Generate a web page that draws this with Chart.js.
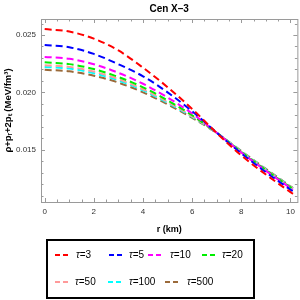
<!DOCTYPE html>
<html>
<head>
<meta charset="utf-8">
<script src="https://cdn.jsdelivr.net/npm/chart.js@4.4.0/dist/chart.umd.min.js"></script>
<style>
html, body { margin: 0; padding: 0; background: #fff; }
#wrap { width: 300px; height: 300px; }
</style>
</head>
<body>
<div id="wrap"><canvas id="myChart" width="300" height="300"></canvas></div>
<script>
// r (km)
const radius = [0, 1, 2, 3, 4, 5, 6, 7, 8, 9, 10, 10.1];

// rho + p_r + 2 p_t (MeV/fm^3) for each tau
const tau3   = [0.02552, 0.02530, 0.02468, 0.02365, 0.02215, 0.02045, 0.01855, 0.01645, 0.01450, 0.01283, 0.01130, 0.01115];
const tau5   = [0.02413, 0.02393, 0.02335, 0.02245, 0.02140, 0.02000, 0.01835, 0.01648, 0.01468, 0.01303, 0.01152, 0.01137];
const tau10  = [0.02309, 0.02292, 0.02245, 0.02170, 0.02075, 0.01955, 0.01815, 0.01648, 0.01475, 0.01315, 0.01165, 0.01150];
const tau20  = [0.02262, 0.02246, 0.02203, 0.02134, 0.02044, 0.01930, 0.01800, 0.01647, 0.01480, 0.01322, 0.01172, 0.01157];
const tau50  = [0.02237, 0.02222, 0.02181, 0.02116, 0.02027, 0.01917, 0.01791, 0.01646, 0.01483, 0.01326, 0.01175, 0.01160];
const tau100 = [0.02221, 0.02207, 0.02167, 0.02104, 0.02017, 0.01908, 0.01786, 0.01646, 0.01485, 0.01328, 0.01177, 0.01162];
const tau500 = [0.02196, 0.02183, 0.02145, 0.02085, 0.02000, 0.01895, 0.01778, 0.01645, 0.01488, 0.01332, 0.01181, 0.01166];

const seriesNames = ["3", "5", "10", "20", "50", "100", "500"];
const seriesValues = [tau3, tau5, tau10, tau20, tau50, tau100, tau500];
const seriesColors = ["#ff0000", "#0000ff", "#ff00ff", "#00ee00", "#ff9a9a", "#00ffff", "#9b6a3a"];

const xTicks = [0, 2, 4, 6, 8, 10];
const yTicks = [0.015, 0.020, 0.025];

const datasets = seriesValues.map((vals, i) => ({
  label: "τ=" + seriesNames[i],
  data: vals.map((v, j) => ({ x: radius[j], y: v })),
  borderColor: seriesColors[i],
  backgroundColor: seriesColors[i],
  borderWidth: 2,
  borderDash: [7, 4],
  pointRadius: 0,
  fill: false,
  cubicInterpolationMode: "monotone"
}));

// frame with inward ticks on all four sides
const frameTicks = {
  id: "frameTicks",
  afterDraw(chart) {
    const { ctx, chartArea: a, scales } = chart;
    ctx.save();
    ctx.strokeStyle = "#9a9a9a";
    ctx.lineWidth = 1;
    ctx.strokeRect(a.left + 0.5, a.top + 0.5, a.right - a.left, a.bottom - a.top);
    ctx.beginPath();
    for (let i = 0; i <= 20; i++) {
      const px = Math.round(scales.x.getPixelForValue(i * 0.5)) + 0.5;
      const len = i % 4 === 0 ? 4 : 2.5;
      ctx.moveTo(px, a.bottom); ctx.lineTo(px, a.bottom - len);
      ctx.moveTo(px, a.top); ctx.lineTo(px, a.top + len);
    }
    for (let i = 11; i <= 26; i++) {
      const py = Math.round(scales.y.getPixelForValue(i / 1000)) + 0.5;
      const len = i % 5 === 0 ? 4 : 2.5;
      ctx.moveTo(a.left, py); ctx.lineTo(a.left + len, py);
      ctx.moveTo(a.right, py); ctx.lineTo(a.right - len, py);
    }
    ctx.stroke();
    ctx.restore();
  }
};

// boxed legend under the plot
const boxLegend = {
  id: "boxLegend",
  afterDraw(chart) {
    const ctx = chart.ctx;
    const slots = [
      [55, 255, 76], [109, 255, 129], [148, 255, 170], [202, 255, 222],
      [55, 282, 75], [108, 282, 129], [165, 282, 187]
    ];
    ctx.save();
    ctx.strokeStyle = "#000";
    ctx.lineWidth = 2;
    ctx.strokeRect(47, 240, 207, 58);
    chart.data.datasets.forEach((ds, i) => {
      const [lx, ly, tx] = slots[i];
      ctx.strokeStyle = ds.borderColor;
      ctx.lineWidth = 2;
      ctx.setLineDash([5, 3]);
      ctx.beginPath();
      ctx.moveTo(lx, ly);
      ctx.lineTo(lx + 14, ly);
      ctx.stroke();
      ctx.setLineDash([]);
      ctx.fillStyle = "#000";
      ctx.textBaseline = "middle";
      ctx.font = "italic 10px 'Liberation Sans'";
      ctx.fillText("τ", tx, ly);
      const w = ctx.measureText("τ").width;
      ctx.font = "10px 'Liberation Sans'";
      ctx.fillText("=" + seriesNames[i], tx + w, ly);
    });
    ctx.restore();
  }
};

new Chart(document.getElementById("myChart"), {
  type: "line",
  data: { datasets: datasets },
  options: {
    responsive: false,
    animation: false,
    layout: { padding: { left: 0, right: 2, top: 0, bottom: 62 } },
    plugins: {
      legend: { display: false },
      tooltip: { enabled: false },
      title: {
        display: true,
        text: "Cen X–3",
        fullSize: false,
        color: "#000",
        font: { family: "'Liberation Sans'", size: 10, weight: "bold", lineHeight: 1.2 },
        padding: { top: 3, bottom: 4 }
      }
    },
    scales: {
      x: {
        type: "linear",
        min: -0.15,
        max: 10.28,
        afterFit: (s) => { s.height = 36; },
        afterBuildTicks: (s) => { s.ticks = xTicks.map(v => ({ value: v })); },
        grid: { display: false, drawTicks: false },
        border: { display: false },
        ticks: {
          padding: 5,
          color: "#333",
          font: { family: "'Liberation Sans'", size: 8 },
          maxRotation: 0
        },
        title: {
          display: true,
          text: "r (km)",
          color: "#000",
          font: { family: "'Liberation Sans'", size: 9, weight: "bold" },
          padding: { top: 0, bottom: 3 }
        }
      },
      y: {
        type: "linear",
        min: 0.010436,
        max: 0.026396,
        afterFit: (s) => { s.width = 41; },
        afterBuildTicks: (s) => { s.ticks = yTicks.map(v => ({ value: v })); },
        grid: { display: false, drawTicks: false },
        border: { display: false },
        ticks: {
          padding: 5,
          color: "#333",
          font: { family: "'Liberation Sans'", size: 8 },
          callback: (v) => Number(v).toFixed(3)
        },
        title: {
          display: true,
          text: "ρ+pᵣ+2pₜ (MeV/fm³)",
          color: "#000",
          font: { family: "'Liberation Sans'", size: 9.5, weight: "bold" },
          padding: { top: 3, bottom: 0 }
        }
      }
    }
  },
  plugins: [frameTicks, boxLegend]
});
</script>
</body>
</html>
